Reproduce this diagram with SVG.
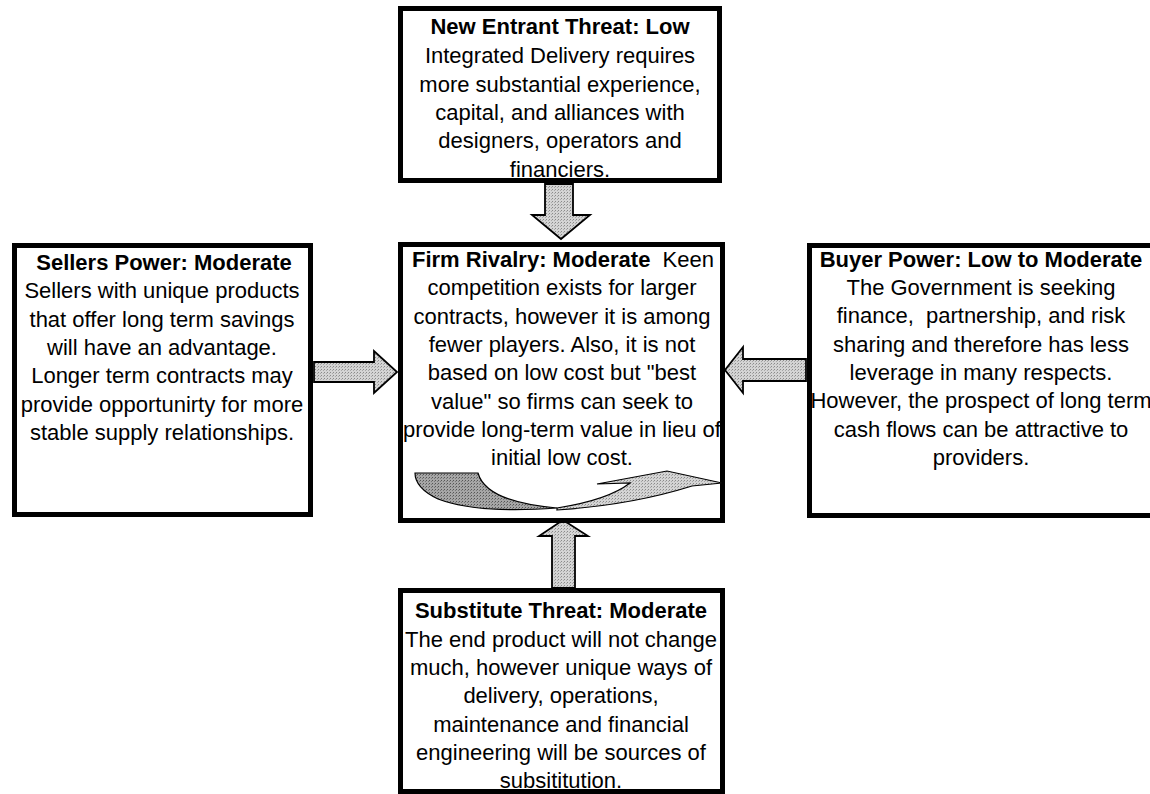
<svg xmlns="http://www.w3.org/2000/svg" width="1150" height="794" viewBox="0 0 1150 794">
<defs>
<pattern id="dots" width="3" height="3" patternUnits="userSpaceOnUse">
<rect width="3" height="3" fill="#d4d4d4"/>
<rect width="1" height="1" fill="#8a8a8a"/>
<rect x="2" y="1" width="1" height="1" fill="#a8a8a8"/>
</pattern>
<pattern id="dotsDark" width="3" height="3" patternUnits="userSpaceOnUse">
<rect width="3" height="3" fill="#a6a6a6"/>
<rect width="1" height="1" fill="#555"/>
<rect x="2" y="1" width="1" height="1" fill="#777"/>
</pattern>
</defs>
<style>
.box{fill:#fff;stroke:#000;stroke-width:5}
.t{font-family:"Liberation Sans",Arial,sans-serif;font-size:22px;fill:#000;text-anchor:middle}
.b{font-weight:bold}
.arr{fill:url(#dots);stroke:#000;stroke-width:1.8;stroke-linejoin:miter}
</style>
<rect width="1150" height="794" fill="#fff"/>

<g id="connectors">
<polygon class="arr" points="545,184 573,184 573,215 590,215 561,239 532,215 545,215"/>
<polygon class="arr" points="314,362 374,362 374,351 397,372 374,393 374,382 314,382"/>
<polygon class="arr" points="806,359 743,359 743,347 725,370 743,393 743,381 806,381"/>
<polygon class="arr" points="552,588 552,536 539,536 563,520 588,536 575,536 575,588"/>
</g>

<g id="node-new-entrant">
<rect class="box" x="400.5" y="8.5" width="319" height="172"/>
<text class="t b" x="560" y="34">New Entrant Threat: Low</text>
<text class="t" x="560" y="63">Integrated Delivery requires</text>
<text class="t" x="560" y="92">more substantial experience,</text>
<text class="t" x="560" y="120">capital, and alliances with</text>
<text class="t" x="560" y="148">designers, operators and</text>
<text class="t" x="560" y="177">financiers.</text>
</g>

<g id="node-rivalry">
<rect class="box" x="400.5" y="244.5" width="322" height="276"/>
<text class="t" x="563" y="267" xml:space="preserve"><tspan class="b">Firm Rivalry: Moderate</tspan>  Keen</text>
<text class="t" x="562" y="295">competition exists for larger</text>
<text class="t" x="562" y="324">contracts, however it is among</text>
<text class="t" x="562" y="352">fewer players. Also, it is not</text>
<text class="t" x="562" y="380">based on low cost but "best</text>
<text class="t" x="562" y="409">value" so firms can seek to</text>
<text class="t" x="562" y="437">provide long-term value in lieu of</text>
<text class="t" x="562" y="465">initial low cost.</text>
<path d="M415,473 L478,473 Q486,502 557,508 Q478,514 438,499 Q415,488 415,473 Z" fill="url(#dotsDark)" stroke="#000" stroke-width="1.2"/>
<path d="M557,508 Q608,500 630,483 L597,484 L667,471 L722,483 L692,486 Q632,505 557,510 Z" fill="url(#dots)" stroke="#000" stroke-width="1.2"/>
</g>

<g id="node-sellers">
<rect class="box" x="14.5" y="245.5" width="296" height="269"/>
<text class="t b" x="164" y="270">Sellers Power: Moderate</text>
<text class="t" x="162" y="298">Sellers with unique products</text>
<text class="t" x="162" y="327">that offer long term savings</text>
<text class="t" x="162" y="355">will have an advantage.</text>
<text class="t" x="162" y="383">Longer term contracts may</text>
<text class="t" x="162" y="412">provide opportunirty for more</text>
<text class="t" x="162" y="440">stable supply relationships.</text>
</g>

<g id="node-buyer">
<rect class="box" x="809.5" y="245.5" width="350" height="270"/>
<text class="t b" x="981" y="267">Buyer Power: Low to Moderate</text>
<text class="t" x="981" y="295">The Government is seeking</text>
<text class="t" x="981" y="323" xml:space="preserve">finance,  partnership, and risk</text>
<text class="t" x="981" y="352">sharing and therefore has less</text>
<text class="t" x="981" y="380">leverage in many respects.</text>
<text class="t" x="981" y="408">However, the prospect of long term</text>
<text class="t" x="981" y="437">cash flows can be attractive to</text>
<text class="t" x="981" y="465">providers.</text>
</g>

<g id="node-substitute">
<rect class="box" x="400.5" y="590.5" width="322" height="201"/>
<text class="t b" x="561" y="618">Substitute Threat: Moderate</text>
<text class="t" x="561" y="647">The end product will not change</text>
<text class="t" x="561" y="675">much, however unique ways of</text>
<text class="t" x="561" y="703">delivery, operations,</text>
<text class="t" x="561" y="732">maintenance and financial</text>
<text class="t" x="561" y="760">engineering will be sources of</text>
<text class="t" x="561" y="788">subsititution.</text>
</g>
</svg>
